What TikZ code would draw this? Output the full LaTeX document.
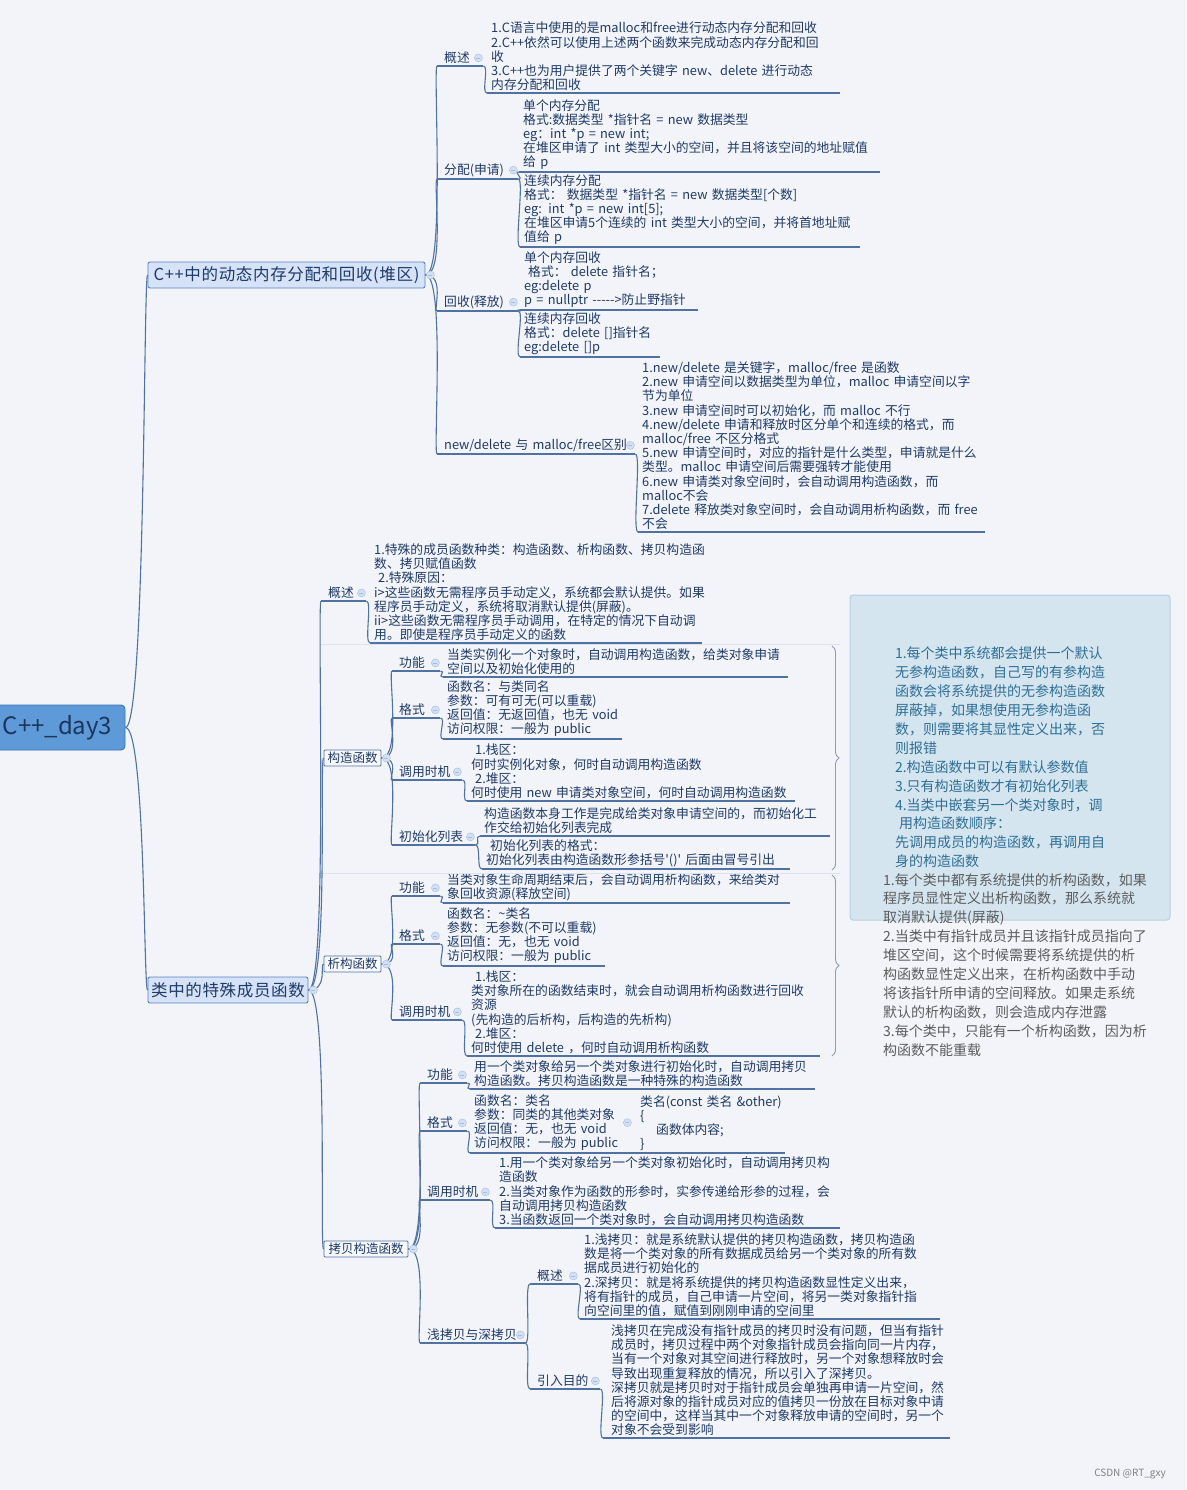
\documentclass[tikz,border=0pt]{standalone}
\usepackage{fontspec}
\setmainfont{Noto Sans CJK SC}
\usetikzlibrary{decorations.pathreplacing}

\definecolor{bgcol}{HTML}{F2F4FA}
\definecolor{ink}{HTML}{1F3A68}
\definecolor{branchcol}{HTML}{4F72A3}
\definecolor{rootfill}{HTML}{5E99D8}
\definecolor{rootline}{HTML}{3C70B2}
\definecolor{rootink}{HTML}{1B365F}
\definecolor{boxfill}{HTML}{D5E2F8}
\definecolor{boxline}{HTML}{5A84C2}
\definecolor{subfill}{HTML}{F7F8FC}
\definecolor{foldfill}{HTML}{D3DFF2}
\definecolor{foldline}{HTML}{A7BDE0}
\definecolor{notefill}{HTML}{D5E5EF}
\definecolor{noteline}{HTML}{B7CFE2}
\definecolor{noteink}{HTML}{2E6F96}
\definecolor{grayink}{HTML}{5C5C5C}
\definecolor{faint}{HTML}{DDE3EE}
\definecolor{bracecol}{HTML}{8E9BB3}

\newcommand{\txtfont}{\fontsize{12.8pt}{14.2pt}\selectfont}
\newcommand{\notefont}{\fontsize{14pt}{18.9pt}\selectfont}

\begin{document}
\begin{tikzpicture}[x=1pt, y=-1pt,
  every node/.style={font=\txtfont, text=ink},
  box/.style={draw=boxline, fill=boxfill, rounded corners=2pt, inner sep=0pt, line width=0.9pt,
    font=\fontsize{16.5pt}{18pt}\selectfont\addfontfeatures{LetterSpace=4}},
  sub/.style={draw=branchcol, fill=subfill, rounded corners=1pt, inner xsep=3pt, inner ysep=0pt,
    minimum height=16pt, line width=0.9pt, font=\fontsize{12.5pt}{14pt}\selectfont},
  lbl/.style={anchor=south west, align=left, inner xsep=7pt, inner ysep=2pt},
  txt/.style={anchor=south west, align=left, inner xsep=4pt, inner ysep=2pt},
  uline/.style={draw=branchcol, line width=1.1pt},
  branch/.style={draw=branchcol, line width=1.1pt},
  fold/.style={circle, draw=foldline, fill=foldfill, minimum size=8pt, inner sep=0pt,
    path picture={\draw[foldline] ([xshift=-2pt]path picture bounding box.center)
      -- ([xshift=2pt]path picture bounding box.center);}},
  note/.style={draw=noteline, fill=notefill, rounded corners=3pt, line width=1pt,
    inner xsep=45pt, text width=230pt, minimum height=325pt, align=left, font=\notefont, text=noteink},
  sumbrace/.style={draw=bracecol, line width=0.9pt, decorate, decoration={brace, amplitude=7pt}}
]
\fill[bgcol] (0,0) rectangle (1186,1490);
\useasboundingbox (0,0) rectangle (1186,1490);

% root and main branches
\node[box, fill=rootfill, draw=rootline, rounded corners=4pt, minimum width=135pt, minimum height=45pt,
  font=\fontsize{24pt}{26pt}\selectfont, text=rootink] (day3) at (57.5,727.5) {C++\_day3};
\node[box, minimum width=277pt, minimum height=26pt] (heap) at (286.5,275) {C++中的动态内存分配和回收(堆区)};
\node[box, minimum width=160pt, minimum height=26pt] (spec) at (228,990) {类中的特殊成员函数};

% heap memory
\node[lbl, text width=32pt] (hOver) at (437,66) {概述};
\node[txt, text width=345pt] (hOverTxt) at (487,93) {1.C语言中使用的是malloc和free进行动态内存分配和回收\\2.C++依然可以使用上述两个函数来完成动态内存分配和回\\收\\3.C++也为用户提供了两个关键字 new、delete 进行动态\\内存分配和回收};
\node[lbl, text width=67pt] (hAlloc) at (437,179) {分配(申请)};
\node[txt, text width=353pt] (hAllocOne) at (519,172) {单个内存分配\\格式:数据类型 *指针名 = new 数据类型\\eg：int *p = new int;\\在堆区申请了 int 类型大小的空间，并且将该空间的地址赋值\\给 p};
\node[txt, text width=332pt] (hAllocArr) at (520,247) {连续内存分配\\格式：\ 数据类型 *指针名 = new 数据类型[个数]\\eg: int *p = new int[5];\\在堆区申请5个连续的 int 类型大小的空间，并将首地址赋\\值给 p};
\node[lbl, text width=67pt] (hFree) at (437,311) {回收(释放)};
\node[txt, text width=170pt] (hFreeOne) at (520,310) {单个内存回收\\\hspace*{4pt}格式：\ delete 指针名；\\eg:delete p\\p = nullptr -{}-{}-{}-{}->防止野指针};
\node[txt, text width=132pt] (hFreeArr) at (520,357) {连续内存回收\\格式：delete []指针名\\eg:delete []p};
\node[lbl, text width=184pt] (hDiff) at (437,454) {new/delete 与 malloc/free区别};
\node[txt, text width=339pt] (hDiffTxt) at (638,532) {1.new/delete 是关键字，malloc/free 是函数\\2.new 申请空间以数据类型为单位，malloc 申请空间以字\\节为单位\\3.new 申请空间时可以初始化，而 malloc 不行\\4.new/delete 申请和释放时区分单个和连续的格式，而\\malloc/free 不区分格式\\5.new 申请空间时，对应的指针是什么类型，申请就是什么\\类型。malloc 申请空间后需要强转才能使用\\6.new 申请类对象空间时，会自动调用构造函数，而\\malloc不会\\7.delete 释放类对象空间时，会自动调用析构函数，而 free\\不会};

% special member functions
\node[lbl, text width=31pt] (sOver) at (321,601) {概述};
\node[txt, text width=324pt] (sOverTxt) at (370,643) {1.特殊的成员函数种类：构造函数、析构函数、拷贝构造函\\数、拷贝赋值函数\\\hspace*{4pt}2.特殊原因：\\i>这些函数无需程序员手动定义，系统都会默认提供。如果\\程序员手动定义，系统将取消默认提供(屏蔽)。\\ii>这些函数无需程序员手动调用，在特定的情况下自动调\\用。即使是程序员手动定义的函数};

\node[sub, minimum width=57pt] (ctor) at (352.5,758) {构造函数};
\node[lbl, text width=34pt] (cFun) at (392,671) {功能};
\node[txt, text width=337pt] (cFunTxt) at (443,677) {当类实例化一个对象时，自动调用构造函数，给类对象申请\\空间以及初始化使用的};
\node[lbl, text width=34pt] (cFmt) at (392,718) {格式};
\node[txt, text width=171pt] (cFmtTxt) at (443,739) {函数名：与类同名\\参数：可有可无(可以重载)\\返回值：无返回值，也无 void\\访问权限：一般为 public};
\node[lbl, text width=56pt] (cWhen) at (392,780) {调用时机};
\node[txt, text width=320pt] (cWhenTxt) at (467,801) {\hspace*{4pt}1.栈区：\\何时实例化对象，何时自动调用构造函数\\\hspace*{4pt}2.堆区：\\何时使用 new 申请类对象空间，何时自动调用构造函数};
\node[lbl, text width=69pt] (cInit) at (392,845) {初始化列表};
\node[txt, text width=342pt] (cInitTxt) at (480,836) {构造函数本身工作是完成给类对象申请空间的，而初始化工\\作交给初始化列表完成};
\node[txt, text width=300pt] (cInitFmt) at (482,869) {\hspace*{4pt}初始化列表的格式：\\初始化列表由构造函数形参括号\textquotesingle()\textquotesingle\ 后面由冒号引出};

\node[sub, minimum width=57pt] (dtor) at (352.5,964) {析构函数};
\node[lbl, text width=34pt] (dFun) at (392,896) {功能};
\node[txt, text width=339pt] (dFunTxt) at (443,903) {当类对象生命周期结束后，会自动调用析构函数，来给类对\\象回收资源(释放空间)};
\node[lbl, text width=34pt] (dFmt) at (392,944) {格式};
\node[txt, text width=154pt] (dFmtTxt) at (443,966) {函数名：\textasciitilde 类名\\参数：无参数(不可以重载)\\返回值：无，也无 void\\访问权限：一般为 public};
\node[lbl, text width=56pt] (dWhen) at (392,1020) {调用时机};
\node[txt, text width=345pt] (dWhenTxt) at (467,1056) {\hspace*{4pt}1.栈区：\\类对象所在的函数结束时，就会自动调用析构函数进行回收\\资源\\(先构造的后析构，后构造的先析构)\\\hspace*{4pt}2.堆区：\\何时使用 delete ，何时自动调用析构函数};

\node[sub, minimum width=84pt] (copy) at (366,1249) {拷贝构造函数};
\node[lbl, text width=33pt] (pFun) at (420,1083) {功能};
\node[txt, text width=337pt] (pFunTxt) at (470,1089) {用一个类对象给另一个类对象进行初始化时，自动调用拷贝\\构造函数。拷贝构造函数是一种特殊的构造函数};
\node[lbl, text width=33pt] (pFmt) at (420,1131) {格式};
\node[txt, text width=154pt] (pFmtTxt) at (470,1153) {函数名：类名\\参数：同类的其他类对象\\返回值：无，也无 void\\访问权限：一般为 public};
\node[txt, inner xsep=8pt, text width=137pt] (pFmtCode) at (632,1153) {类名(const~类名~\&other)\\\{\\\hspace*{16pt}函数体内容;\\\}};
\node[lbl, text width=56pt] (pWhen) at (420,1200) {调用时机};
\node[txt, text width=337pt] (pWhenTxt) at (495,1228) {1.用一个类对象给另一个类对象初始化时，自动调用拷贝构\\造函数\\2.当类对象作为函数的形参时，实参传递给形参的过程，会\\自动调用拷贝构造函数\\3.当函数返回一个类对象时，会自动调用拷贝构造函数};
\node[lbl, text width=91pt] (pDeep) at (420,1343) {浅拷贝与深拷贝};
\node[lbl, text width=34pt] (pdOver) at (530,1284) {概述};
\node[txt, text width=352pt] (pdOverTxt) at (580,1319) {1.浅拷贝：就是系统默认提供的拷贝构造函数，拷贝构造函\\数是将一个类对象的所有数据成员给另一个类对象的所有数\\据成员进行初始化的\\2.深拷贝：就是将系统提供的拷贝构造函数显性定义出来，\\将有指针的成员，自己申请一片空间，将另一类对象指针指\\向空间里的值，赋值到刚刚申请的空间里};
\node[lbl, text width=56pt] (pdWhy) at (530,1389) {引入目的};
\node[txt, inner xsep=8pt, text width=331pt] (pdWhyTxt) at (603,1438) {浅拷贝在完成没有指针成员的拷贝时没有问题，但当有指针\\成员时，拷贝过程中两个对象指针成员会指向同一片内存，\\当有一个对象对其空间进行释放时，另一个对象想释放时会\\导致出现重复释放的情况，所以引入了深拷贝。\\深拷贝就是拷贝时对于指针成员会单独再申请一片空间，然\\后将源对象的指针成员对应的值拷贝一份放在目标对象中请\\的空间中，这样当其中一个对象释放申请的空间时，另一个\\对象不会受到影响};

% summaries
\draw[faint, line width=0.8pt] (320,644) -- (840,644);
\draw[faint, line width=0.8pt] (320,873) -- (840,873);
\draw[sumbrace] (832,646) -- (832,870);
\draw[sumbrace] (832,875) -- (832,1056);
\node[note] (ctorNote) at (1010,757.5) {1.每个类中系统都会提供一个默认\\无参构造函数，自己写的有参构造\\函数会将系统提供的无参构造函数\\屏蔽掉，如果想使用无参构造函\\数，则需要将其显性定义出来，否\\则报错\\2.构造函数中可以有默认参数值\\3.只有构造函数才有初始化列表\\4.当类中嵌套另一个类对象时，调\\\hspace*{4pt}用构造函数顺序：\\先调用成员的构造函数，再调用自\\身的构造函数};
\node[anchor=north west, align=left, inner sep=2pt, font=\notefont, text=grayink] (dtorNote) at (881,871) {1.每个类中都有系统提供的析构函数，如果\\程序员显性定义出析构函数，那么系统就\\取消默认提供(屏蔽)\\2.当类中有指针成员并且该指针成员指向了\\堆区空间，这个时候需要将系统提供的析\\构函数显性定义出来，在析构函数中手动\\将该指针所申请的空间释放。如果走系统\\默认的析构函数，则会造成内存泄露\\3.每个类中，只能有一个析构函数，因为析\\构函数不能重载};

% underlines
\foreach \n in {hOver,hOverTxt,hAlloc,hAllocOne,hAllocArr,hFree,hFreeOne,hFreeArr,hDiff,hDiffTxt,
  sOver,sOverTxt,cFun,cFunTxt,cFmt,cFmtTxt,cWhen,cWhenTxt,cInit,cInitTxt,cInitFmt,
  dFun,dFunTxt,dFmt,dFmtTxt,dWhen,dWhenTxt,pFun,pFunTxt,pFmt,pFmtTxt,pFmtCode,pWhen,pWhenTxt,
  pDeep,pdOver,pdOverTxt,pdWhy,pdWhyTxt}
  \draw[uline] (\n.south west) -- (\n.south east);

% branches leaving a box
\foreach \a/\b in {day3.east/heap.west, day3.east/spec.west,
  heap.east/hOver.south west, heap.east/hAlloc.south west, heap.east/hFree.south west, heap.east/hDiff.south west,
  spec.east/sOver.south west, spec.east/ctor.west, spec.east/dtor.west, spec.east/copy.west,
  ctor.east/cFun.south west, ctor.east/cFmt.south west, ctor.east/cWhen.south west, ctor.east/cInit.south west,
  dtor.east/dFun.south west, dtor.east/dFmt.south west, dtor.east/dWhen.south west,
  copy.east/pFun.south west, copy.east/pFmt.south west, copy.east/pWhen.south west, copy.east/pDeep.south west}
  \draw[branch] (\a) .. controls +(20,0) and +(-4,0) .. (\b);

% branches leaving an underline
\foreach \a/\b in {hOver/hOverTxt, hAlloc/hAllocOne, hAlloc/hAllocArr, hFree/hFreeOne, hFree/hFreeArr, hDiff/hDiffTxt,
  sOver/sOverTxt, cFun/cFunTxt, cFmt/cFmtTxt, cWhen/cWhenTxt, cInit/cInitTxt, cInit/cInitFmt,
  dFun/dFunTxt, dFmt/dFmtTxt, dWhen/dWhenTxt, pFun/pFunTxt, pFmt/pFmtTxt, pFmtTxt/pFmtCode,
  pWhen/pWhenTxt, pDeep/pdOver, pDeep/pdWhy, pdOver/pdOverTxt, pdWhy/pdWhyTxt}
  \draw[branch] (\a.south east) .. controls +(6,0) and +(-6,0) .. (\b.south west);

% fold markers
\foreach \n in {heap,spec,ctor,dtor,copy}
  \node[fold] at ([xshift=5pt]\n.east) {};
\foreach \n in {hOver,hAlloc,hFree,hDiff,sOver,cFun,cFmt,cWhen,cInit,dFun,dFmt,dWhen,
  pFun,pFmt,pFmtTxt,pWhen,pDeep,pdOver,pdWhy}
  \node[fold] at ([xshift=-5pt]\n.east) {};

\node[font=\fontsize{10pt}{12pt}\selectfont, text=gray] (mark) at (1130,1474) {CSDN @RT\_gxy};
\end{tikzpicture}
\end{document}
